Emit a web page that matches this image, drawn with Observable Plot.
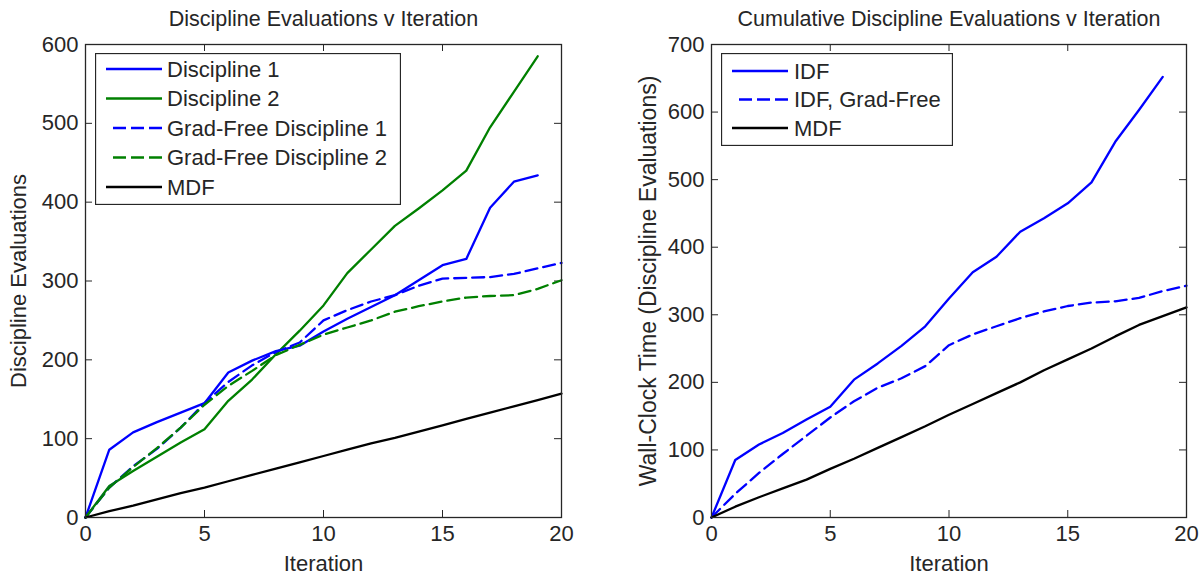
<!DOCTYPE html>
<html><head><meta charset="utf-8">
<script src="https://cdn.jsdelivr.net/npm/d3@7"></script>
<script src="https://cdn.jsdelivr.net/npm/@observablehq/plot@0.6"></script>
<style>
body{margin:0;background:#fff;}
#wrap{position:relative;width:1203px;height:577px;overflow:hidden;background:#fff;}
.panel{position:absolute;top:0;}
.legend{position:absolute;}
</style></head><body><div id="wrap"></div>
<script>
// ---- data ----
const iterations = [0,1,2,3,4,5,6,7,8,9,10,11,12,13,14,15,16,17,18,19,20];
const xTicks = [0,5,10,15,20];
const leftYTicks = [0,100,200,300,400,500,600];
const rightYTicks = [0,100,200,300,400,500,600,700];

const discipline1 = [0,86,108,121,133,145,184,199,211,218,236,252,267,282,301,320,328,393,426,434];
const discipline2 = [0,40,59,77,95,112,148,175,207,237,269,310,340,370,392,415,440,495,540,585];
const gradFree1 = [0,38,65,87,114,145,172,193,210,222,250,263,274,282,294,303,304,305,309,316,323];
const gradFree2 = [0,38,64,88,114,143,167,186,206,219,232,241,250,261,268,274,279,281,282,290,301];
const mdfLeft = [0,8,15,23,31,38,46,54,62,70,78,86,94,101,109,117,125,133,141,149,157];

const idf = [0,85,108,125,145,164,204,228,254,283,324,363,386,423,443,465,496,556,603,652];
const idfGradFree = [0,35,66,94,121,148,172,192,206,224,255,271,283,295,305,313,318,320,325,335,343];
const mdfRight = [0,16,30,43,56,72,87,103,119,135,152,168,184,200,218,234,250,268,285,298,311];

const leftNames = ["Discipline 1","Discipline 2","Grad-Free Discipline 1","Grad-Free Discipline 2","MDF"];
const rightNames = ["IDF","IDF, Grad-Free","MDF"];

const BLUE = "#0000ff", GREEN = "#008000", BLACK = "#000000", INK = "#262626";
const DASH = "12,6";
const FONT = "'Liberation Sans', Arial, Helvetica, sans-serif";
const FS = 22;

const leftSeries = [
  {name: leftNames[0], values: discipline1, color: BLUE, dash: null},
  {name: leftNames[1], values: discipline2, color: GREEN, dash: null},
  {name: leftNames[2], values: gradFree1, color: BLUE, dash: DASH},
  {name: leftNames[3], values: gradFree2, color: GREEN, dash: DASH},
  {name: leftNames[4], values: mdfLeft, color: BLACK, dash: null}
];
const rightSeries = [
  {name: rightNames[0], values: idf, color: BLUE, dash: null},
  {name: rightNames[1], values: idfGradFree, color: BLUE, dash: DASH},
  {name: rightNames[2], values: mdfRight, color: BLACK, dash: null}
];

const H = 577, MT = 44, MB = 60;

function panel({series, yDomain, yTicks, title, ylabel, width, marginLeft, marginRight, ylabelDx, ylabelSize}) {
  const innerH = H - MT - MB;
  const innerW = width - marginLeft - marginRight;
  const lines = series.map(s => Plot.lineY(s.values, {
    x: (d, i) => iterations[i], y: d => d,
    stroke: s.color, strokeWidth: 2.3, strokeDasharray: s.dash || undefined
  }));
  return Plot.plot({
    width, height: H, marginTop: MT, marginBottom: MB, marginLeft, marginRight,
    style: {fontFamily: FONT, fontSize: FS + "px", color: INK, background: "white", overflow: "visible"},
    x: {domain: [0, 20]},
    y: {domain: yDomain},
    marks: [
      Plot.axisX({ticks: xTicks, tickSize: 0, tickPadding: 8, label: null, fontSize: FS}),
      Plot.axisY({ticks: yTicks, tickSize: 0, tickPadding: 7, label: null, fontSize: FS}),
      Plot.tickX(xTicks, {x: d => d, insetTop: innerH - 7, stroke: INK}),
      Plot.tickX(xTicks, {x: d => d, insetBottom: innerH - 7, stroke: INK}),
      Plot.tickY(yTicks, {y: d => d, insetRight: innerW - 7, stroke: INK}),
      Plot.tickY(yTicks, {y: d => d, insetLeft: innerW - 7, stroke: INK}),
      ...lines,
      Plot.frame({stroke: INK, strokeWidth: 1.3}),
      Plot.text([title], {text: d => d, frameAnchor: "top", dy: -25, lineAnchor: "middle", fontSize: 21.5, fill: INK}),
      Plot.text(["Iteration"], {text: d => d, frameAnchor: "bottom", dy: 46, lineAnchor: "middle", fontSize: FS, fill: INK}),
      Plot.text([ylabel], {text: d => d, frameAnchor: "left", dx: ylabelDx, rotate: -90, textAnchor: "middle", lineAnchor: "middle", fontSize: ylabelSize, fill: INK})
    ]
  });
}

function legend(series, {left, top, width, height, rowTop, rowStep, x1, x2, tx}) {
  const svg = d3.create("svg").attr("class", "legend")
    .attr("width", width).attr("height", height)
    .style("left", left + "px").style("top", top + "px");
  svg.append("rect").attr("x", 0.5).attr("y", 0.5).attr("width", width - 1).attr("height", height - 1)
    .attr("fill", "white").attr("stroke", INK).attr("stroke-width", 1.3);
  series.forEach((s, i) => {
    const y = rowTop + i * rowStep;
    svg.append("line").attr("x1", s.dash ? x2 : x1).attr("x2", s.dash ? x1 + 4 : x2)
      .attr("y1", y).attr("y2", y)
      .attr("stroke", s.color).attr("stroke-width", 2.4)
      .attr("stroke-dasharray", s.dash ? "13,5" : null);
    svg.append("text").attr("x", tx).attr("y", y).attr("dy", "0.36em")
      .attr("font-family", FONT).attr("font-size", FS).attr("fill", INK).text(s.name);
  });
  return svg.node();
}

const wrap = document.getElementById("wrap");

const left = panel({series: leftSeries, yDomain: [0, 600], yTicks: leftYTicks,
  title: "Discipline Evaluations v Iteration", ylabel: "Discipline Evaluations",
  width: 601, marginLeft: 85, marginRight: 40, ylabelDx: -67, ylabelSize: 22});
const leftDiv = document.createElement("div");
leftDiv.className = "panel"; leftDiv.style.left = "0px";
leftDiv.appendChild(left);
wrap.appendChild(leftDiv);

const right = panel({series: rightSeries, yDomain: [0, 700], yTicks: rightYTicks,
  title: "Cumulative Discipline Evaluations v Iteration", ylabel: "Wall-Clock Time (Discipline Evaluations)",
  width: 602, marginLeft: 110, marginRight: 17, ylabelDx: -63, ylabelSize: 23});
const rightDiv = document.createElement("div");
rightDiv.className = "panel"; rightDiv.style.left = "601px";
rightDiv.appendChild(right);
wrap.appendChild(rightDiv);

wrap.appendChild(legend(leftSeries, {left: 95, top: 53, width: 306, height: 152, rowTop: 16, rowStep: 29.5, x1: 11, x2: 67, tx: 72}));
wrap.appendChild(legend(rightSeries, {left: 721, top: 53, width: 232, height: 93, rowTop: 18, rowStep: 28.5, x1: 11, x2: 67, tx: 73}));
</script></body></html>
